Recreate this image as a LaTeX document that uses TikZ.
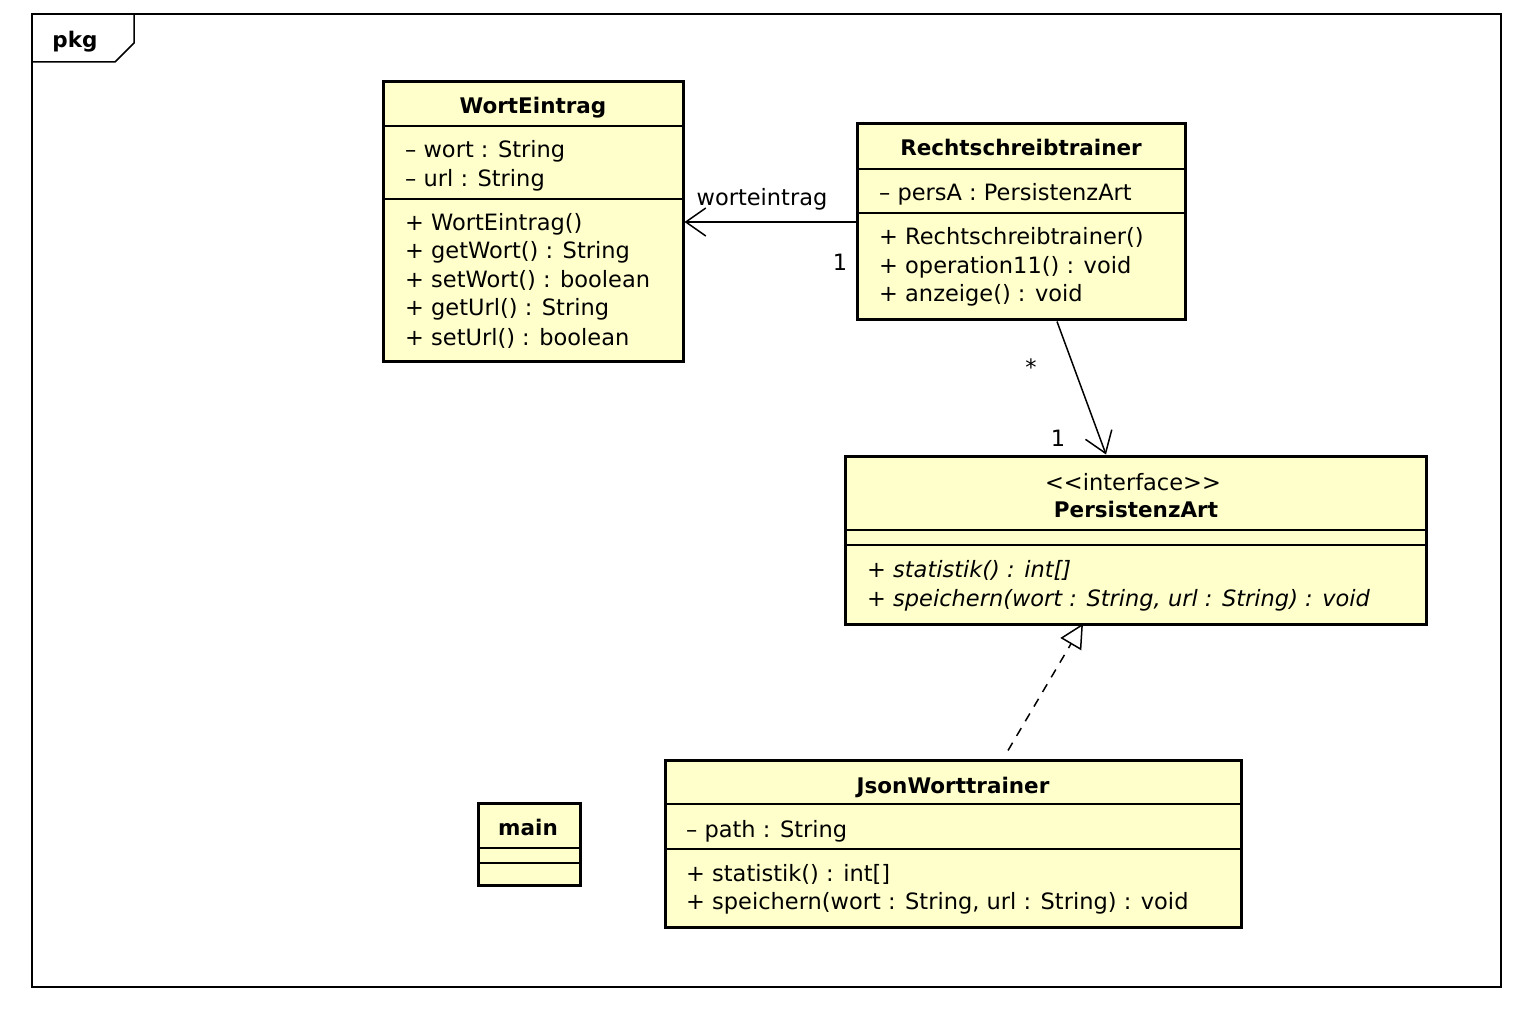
\documentclass[tikz,border=0pt]{standalone}
\usepackage{fontspec}
\setmainfont{DejaVu Sans}
\usetikzlibrary{arrows.meta}
\definecolor{classfill}{RGB}{255,255,204}
\tikzset{
  classbox/.style={draw=black, line width=3pt, fill=classfill, inner sep=0pt, rectangle},
  divider/.style={line width=1.5pt},
  frameline/.style={line width=1.5pt},
  txt/.style={inner sep=0pt, anchor=base west, font=\fontsize{22.5}{26}\selectfont},
  ttl/.style={inner sep=0pt, anchor=base, font=\fontsize{21.5}{26}\selectfont\bfseries},
  itx/.style={txt, font=\fontsize{22.5}{26}\selectfont\itshape},
  lbl/.style={inner sep=0pt, anchor=base, font=\fontsize{22.5}{26}\selectfont},
  assoc/.style={line width=1.5pt, -{Straight Barb[length=20pt,width=28pt,line width=1.5pt]}},
  realize/.style={line width=1.5pt, dash pattern=on 9pt off 8pt, -{Triangle[open,length=24pt,width=24pt,line width=1.5pt,fill=white]}},
}
\begin{document}
\begin{tikzpicture}[x=1pt,y=-1pt]
\useasboundingbox[fill=white] (0,0) rectangle (1516,1024);
% package frame
\draw[frameline] (32,14) rectangle (1501,987);
\draw[frameline] (32,62) -- (115,62) -- (134,43) -- (134,14);
\node[ttl] (pkg) at (75,48) {pkg};

% WortEintrag
\node[classbox, minimum width=300pt, minimum height=280pt] (we) at (533,222) {};
\draw[divider] (383,126) -- (683,126);
\draw[divider] (383,199) -- (683,199);
\node[ttl] (wet) at (533,114) {WortEintrag};
\node[txt] (we1) at (405,158) {– wort : String};
\node[txt] (we2) at (405,187) {– url : String};
\node[txt] (we3) at (405,231) {+ WortEintrag()};
\node[txt] (we4) at (405,259) {+ getWort() : String};
\node[txt] (we5) at (405,288) {+ setWort() : boolean};
\node[txt] (we6) at (405,316) {+ getUrl() : String};
\node[txt] (we7) at (405,345) {+ setUrl() : boolean};

% Rechtschreibtrainer
\node[classbox, minimum width=328pt, minimum height=196pt] (rt) at (1021,222) {};
\draw[divider] (857,169) -- (1185,169);
\draw[divider] (857,213) -- (1185,213);
\node[ttl] (rtt) at (1021,156) {Rechtschreibtrainer};
\node[txt] (rt1) at (879,201) {– persA : PersistenzArt};
\node[txt] (rt2) at (879,245) {+ Rechtschreibtrainer()};
\node[txt] (rt3) at (879,274) {+ operation11() : void};
\node[txt] (rt4) at (879,302) {+ anzeige() : void};

% PersistenzArt
\node[classbox, minimum width=581pt, minimum height=168pt] (pa) at (1135.5,540) {};
\draw[divider] (845,530) -- (1426,530);
\draw[divider] (845,545) -- (1426,545);
\node[lbl] (pas) at (1133,490) {{<}{<}interface{>}{>}};
\node[ttl] (pat) at (1136,517) {PersistenzArt};
\node[itx] (pa1) at (867,577) {+ statistik() : int[]};
\node[itx] (pa2) at (867,606) {+ speichern(wort : String, url : String) : void};

% JsonWorttrainer
\node[classbox, minimum width=576pt, minimum height=167pt] (js) at (953,843.5) {};
\draw[divider] (665,804) -- (1241,804);
\draw[divider] (665,849) -- (1241,849);
\node[ttl] (jst) at (953,793) {JsonWorttrainer};
\node[txt] (js1) at (686,837) {– path : String};
\node[txt] (js2) at (686,881) {+ statistik() : int[]};
\node[txt] (js3) at (686,909) {+ speichern(wort : String, url : String) : void};

% main
\node[classbox, minimum width=102pt, minimum height=82pt] (mn) at (529,844) {};
\draw[divider] (478,848) -- (580,848);
\draw[divider] (478,863) -- (580,863);
\node[ttl] (mnt) at (528,835) {main};

% connectors
\draw[assoc] (rt.west) -- (we.east);
\node[lbl] (l1) at (762,206) {worteintrag};
\node[lbl] (l2) at (840,271) {1};
\draw[assoc] ([xshift=36pt]rt.south) -- ([xshift=-29.5pt]pa.north);
\node[lbl] (l3) at (1031,376) {*};
\node[lbl] (l4) at (1058,446) {1};
\draw[realize] ([xshift=55pt,yshift=8pt]js.north) -- ([xshift=-52.5pt,yshift=2pt]pa.south);
\end{tikzpicture}
\end{document}
